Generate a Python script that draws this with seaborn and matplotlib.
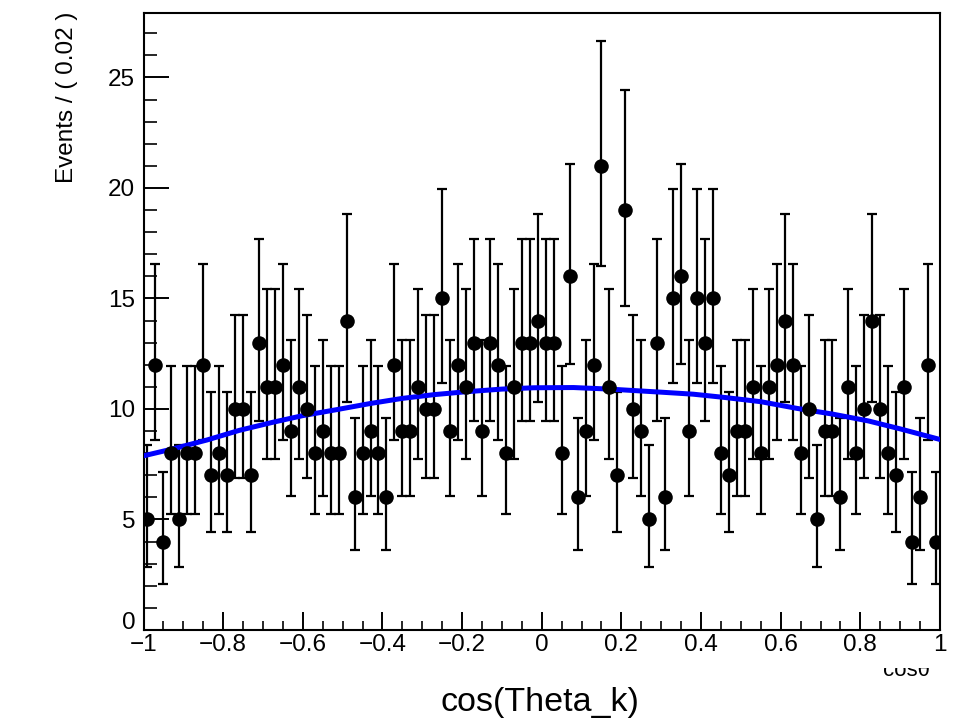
import math
import numpy as np
import pandas as pd
import matplotlib
matplotlib.use("Agg")
import matplotlib.pyplot as plt
from matplotlib.ticker import MultipleLocator, FuncFormatter
from matplotlib.transforms import Bbox, TransformedBbox, ScaledTranslation, blended_transform_factory
import seaborn as sns

# ---------------- data ----------------
bin_low = -1.0
bin_width = 0.02
counts = [5, 12, 4, 8, 5, 8, 8, 12, 7, 8, 7, 10, 10, 7, 13, 11,
          11, 12, 9, 11, 10, 8, 9, 8, 8, 14, 6, 8, 9, 8, 6, 12, 9,
          9, 11, 10, 10, 15, 9, 12, 11, 13, 9, 13, 12, 8, 11, 13, 13,
          14, 13, 13, 8, 16, 6, 9, 12, 21, 11, 7, 19, 10, 9, 5, 13, 6,
          15, 16, 9, 15, 13, 15, 8, 7, 9, 9,
          11, 8, 11, 12, 14, 12, 8, 10, 5, 9,
          9, 6, 11, 8, 10, 14, 10, 8, 7, 11,
          4, 6, 12, 4]

curve_x = [-1.0, -0.925, -0.84, -0.76, -0.675, -0.6, -0.515, -0.43, -0.35,
           -0.27, -0.19, -0.1, -0.02, 0.08, 0.17, 0.3, 0.38, 0.46, 0.55,
           0.64, 0.73, 0.82, 0.9, 1.0]
curve_y = [7.88, 8.2, 8.6, 9.03, 9.4, 9.7, 9.97, 10.25, 10.48,
           10.65, 10.78, 10.9, 10.96, 10.97, 10.9, 10.76, 10.67, 10.52, 10.33,
           10.03, 9.77, 9.46, 9.1, 8.62]

xticks = [-1, -0.8, -0.6, -0.4, -0.2, 0, 0.2, 0.4, 0.6, 0.8, 1]
yticks = [0, 5, 10, 15, 20, 25]
xlabel = "cos(Theta_k)"
ylabel = "Events / ( 0.02 )"
xtitle_small = "cosθ"

# ---------------- Poisson (Garwood) error bars ----------------
ALPHA = 0.5 * (1 - 0.682689)


def pois_cdf(k, mu):
    s = 0.0
    term = math.exp(-mu)
    for i in range(k + 1):
        if i > 0:
            term *= mu / i
        s += term
    return s


def bisect(f, lo, hi, n_iter=80):
    for _ in range(n_iter):
        mid = 0.5 * (lo + hi)
        if f(mid) > 0:
            lo = mid
        else:
            hi = mid
    return 0.5 * (lo + hi)


def pois_interval(n):
    up = bisect(lambda mu: pois_cdf(n, mu) - ALPHA, n, n + 10 * math.sqrt(n + 1) + 10)
    if n == 0:
        lo = 0.0
    else:
        lo = bisect(lambda mu: pois_cdf(n - 1, mu) - (1 - ALPHA), 0.0, n)
    return lo, up


centers = bin_low + bin_width * (np.arange(len(counts)) + 0.5)
lows, ups = zip(*[pois_interval(n) for n in counts])
err_lo = np.array(counts) - np.array(lows)
err_hi = np.array(ups) - np.array(counts)

df = pd.DataFrame({"x": centers, "y": counts})
cdf = pd.DataFrame({"x": curve_x, "y": curve_y})

# ---------------- style ----------------
sns.set_theme(style="white")
plt.rcParams["font.family"] = ["Liberation Sans", "DejaVu Sans"]

W, H = 965, 724
fig = plt.figure(figsize=(W / 100, H / 100), dpi=100)
ax = fig.add_axes([143.5 / W, 1 - 630 / H, (940 - 143.5) / W, (630 - 12.7) / H])

ax.errorbar(centers, counts, yerr=[err_lo, err_hi], fmt="none",
            ecolor="black", elinewidth=1.6, capsize=3.6, capthick=1.6, zorder=2)
sns.lineplot(data=cdf, x="x", y="y", ax=ax, color="#0000ff", linewidth=3.6,
             zorder=3, sort=False)
sns.scatterplot(data=df, x="x", y="y", ax=ax, color="black", s=110,
                marker="o", edgecolor="black", linewidth=0, zorder=4)

ax.set_xlim(-1, 1)
ax.set_ylim(0, 27.93)
ax.set_xlabel("")
ax.set_ylabel("")
ax.set_xticks(xticks)
ax.set_yticks(yticks)
ax.xaxis.set_minor_locator(MultipleLocator(0.05))
ax.yaxis.set_minor_locator(MultipleLocator(1))
ax.xaxis.set_major_formatter(FuncFormatter(lambda v, p: ("%g" % v).replace("-", "\u2212")))
# the "0" of the y axis is drawn separately, a little higher, so it does not sit on "−1"
ax.yaxis.set_major_formatter(FuncFormatter(lambda v, p: "" if v == 0 else "%g" % v))

ax.tick_params(axis="x", which="major", direction="in", length=13, width=1.4,
               labelsize=17.5, pad=3, colors="black")
ax.tick_params(axis="x", which="minor", direction="in", length=6.5, width=1.4)
ax.tick_params(axis="y", which="major", direction="in", length=18, width=1.4,
               labelsize=17.5, pad=6, colors="black")
ax.tick_params(axis="y", which="minor", direction="in", length=9, width=1.4)
ax.tick_params(top=False, right=False, bottom=True, left=True, which="both")

zero_tr = blended_transform_factory(ax.transAxes, ax.transData) + \
    ScaledTranslation(-6 / 72, 5 / 72, fig.dpi_scale_trans)
ax.text(0, yticks[0], "%g" % yticks[0], transform=zero_tr, ha="right", va="center",
        fontsize=17.5, color="black", clip_on=False)

for sp in ax.spines.values():
    sp.set_color("black")
    sp.set_linewidth(1.5)
    sp.set_visible(True)

fig.text(67 / W, 1 - 12 / H, ylabel, rotation=90, ha="center", va="top",
         fontsize=17.5, color="black")
fig.text(540 / W, 1 - 703 / H, xlabel, ha="center", va="center",
         fontsize=24.5, color="black")

t = fig.text(930 / W, 1 - 660 / H, xtitle_small, ha="right", va="top",
             fontsize=16, color="black")
t.set_clip_on(True)
t.set_clip_box(TransformedBbox(Bbox([[0, 0], [1, 1 - 668 / H]]), fig.transFigure))

fig.savefig("out.png", dpi=100)
